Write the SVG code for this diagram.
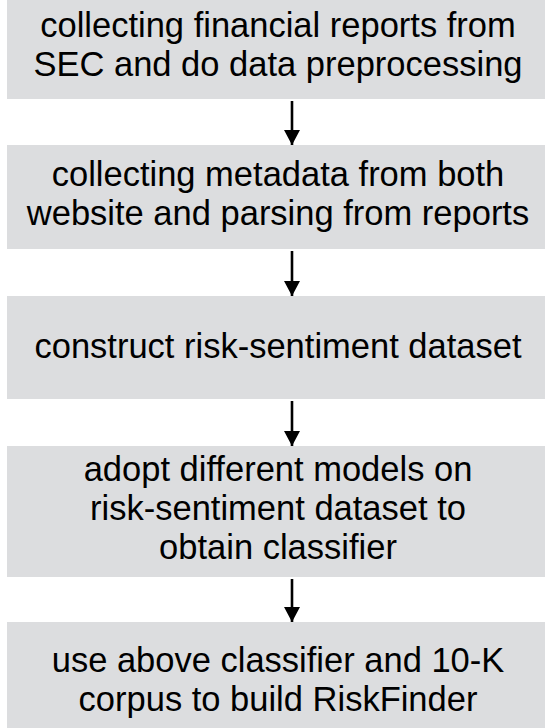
<svg xmlns="http://www.w3.org/2000/svg" width="545" height="728" viewBox="0 0 545 728">
<style>
.box{fill:#dcdddf;}
.t{font-family:"Liberation Sans",Arial,sans-serif;font-size:34.5px;fill:#000;text-anchor:middle;}
.c{stroke:#000;stroke-width:2.6;fill:none;}
</style>
<defs>
<marker id="ah" markerUnits="userSpaceOnUse" markerWidth="16" markerHeight="16" refX="15" refY="8" orient="auto" viewBox="0 0 16 16">
<path d="M0,0 L15,8 L0,16 Z" fill="#000"/>
</marker>
</defs>
<rect width="545" height="728" fill="#fff"/>
<g id="n1"><rect class="box" x="7" y="-5" width="542" height="104"/>
<text class="t" x="278" y="37">collecting financial reports from</text>
<text class="t" x="278" y="76">SEC and do data preprocessing</text></g>
<g id="n2"><rect class="box" x="7" y="145" width="542" height="104"/>
<text class="t" x="278" y="186">collecting metadata from both</text>
<text class="t" x="278" y="225">website and parsing from reports</text></g>
<g id="n3"><rect class="box" x="7" y="296" width="542" height="103"/>
<text class="t" x="278" y="358">construct risk-sentiment dataset</text></g>
<g id="n4"><rect class="box" x="7" y="446" width="542" height="131"/>
<text class="t" x="278" y="481">adopt different models on</text>
<text class="t" x="278" y="520">risk-sentiment dataset to</text>
<text class="t" x="278" y="559">obtain classifier</text></g>
<g id="n5"><rect class="box" x="7" y="622" width="542" height="120"/>
<text class="t" x="278" y="672">use above classifier and 10-K</text>
<text class="t" x="278" y="711">corpus to build RiskFinder</text></g>
<g id="connectors">
<line class="c" x1="292" y1="101" x2="292" y2="145" marker-end="url(#ah)"/>
<line class="c" x1="292" y1="251" x2="292" y2="296" marker-end="url(#ah)"/>
<line class="c" x1="292" y1="401" x2="292" y2="446" marker-end="url(#ah)"/>
<line class="c" x1="292" y1="579" x2="292" y2="622" marker-end="url(#ah)"/>
</g>
</svg>
